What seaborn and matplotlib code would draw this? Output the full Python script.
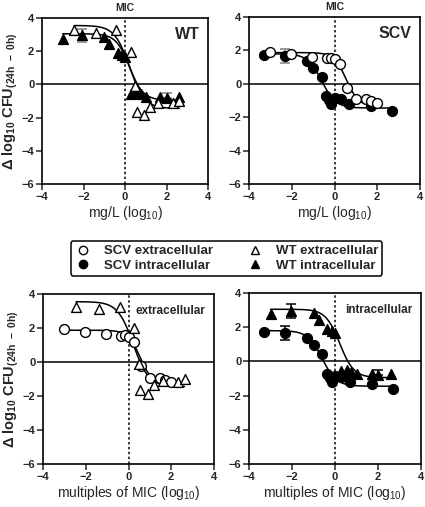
import matplotlib.pyplot as plt
import numpy as np
import pandas as pd
import seaborn as sns
from matplotlib.lines import Line2D

sns.set_style("ticks")
plt.rcParams['font.family'] = ['Liberation Sans', 'DejaVu Sans']
plt.rcParams['mathtext.default'] = 'regular'

# points (log10 concentration, delta log10 CFU); MIC = 1 mg/L so both x scales match
wt_ext_x = [-2.45, -1.4, -0.42, 0.28, 0.48, 0.56, 0.92, 1.2, 1.6, 2.3, 2.62]
wt_ext_y = [3.25, 3.1, 3.25, 1.98, -0.12, -1.64, -1.87, -1.36, -1.1, -1.15, -1.0]
wt_int_x = [-3.0, -2.05, -1.0, -0.75, -0.35, -0.15, 0.0, 0.3, 0.55, 0.75, 1.0, 1.7, 2.0, 2.6]
wt_int_y = [2.75, 2.95, 2.85, 2.45, 1.9, 1.75, 1.68, -0.55, -0.5, -0.6, -0.75, -0.75, -0.8, -0.75]
scv_ext_x = [-3.0, -2.02, -1.05, -0.37, -0.18, 0.02, 0.28, 0.58, 1.0, 1.47, 1.7, 1.98]
scv_ext_y = [1.93, 1.78, 1.63, 1.52, 1.56, 1.5, 1.2, -0.25, -0.93, -0.93, -1.05, -1.15]
scv_int_x = [-3.3, -2.32, -1.3, -1.0, -0.59, -0.38, -0.24, -0.15, 0.02, 0.3, 0.68, 1.7, 2.68]
scv_int_y = [1.7, 1.66, 1.37, 0.97, 0.43, -0.75, -0.95, -1.2, -0.85, -0.92, -1.2, -1.34, -1.6]

# error bars (x, y, lower, upper)
wt_int_err = [(-2.05, 2.95, 0.4, 0.4), (2.0, -0.8, 0.0, 0.28)]
scv_int_err = [(-2.32, 1.66, 0.42, 0.42)]

# Hill fits: top, bottom, logEC50, slope
wt_ext_fit = [3.55, -1.45, 0.22, 1.2]
wt_int_fit = [3.05, -0.95, 0.22, 1.33]
scv_ext_fit = [1.87, -1.35, 0.55, 1.5]
scv_int_fit = [1.8, -1.45, -0.6, 1.3]


def hill(p, x0, x1):
    xs = np.linspace(x0, x1, 200)
    ys = p[1] + (p[0] - p[1]) / (1 + 10 ** ((xs - p[2]) * p[3]))
    return pd.DataFrame({'x': xs, 'y': ys})


series = {
    'wt_ext': (wt_ext_x, wt_ext_y, wt_ext_fit, '^', 'white'),
    'wt_int': (wt_int_x, wt_int_y, wt_int_fit, '^', 'black'),
    'scv_ext': (scv_ext_x, scv_ext_y, scv_ext_fit, 'o', 'white'),
    'scv_int': (scv_int_x, scv_int_y, scv_int_fit, 'o', 'black'),
}
errs = {'wt_int': wt_int_err, 'scv_int': scv_int_err}

fig = plt.figure(figsize=(4.25, 5.07), dpi=100)
W, H = 425, 507


def add_ax(x0, y0, x1, y1):
    return fig.add_axes([x0 / W, 1 - y1 / H, (x1 - x0) / W, (y1 - y0) / H])


panels = [
    (add_ax(42, 18, 208, 184), ['wt_int', 'wt_ext'], 'WT', 11.5, 'mg/L (log$_{10}$)', True, '#808080'),
    (add_ax(249, 17, 420, 184), ['scv_int', 'scv_ext'], 'SCV', 11.5, 'mg/L (log$_{10}$)', True, '#808080'),
    (add_ax(43, 294, 214, 464), ['scv_ext', 'wt_ext'], 'extracellular', 8.5, 'multiples of MIC (log$_{10}$)', False, 'black'),
    (add_ax(249, 293, 421, 464), ['scv_int', 'wt_int'], 'intracellular', 8.5, 'multiples of MIC (log$_{10}$)', False, 'black'),
]

for i, (ax, keys, title, tsize, xlab, top, ecol) in enumerate(panels):
    ax.axhline(0, color='black', lw=1.1, zorder=1)
    ax.axvline(0, color='black', lw=1.1, ls=(0, (1.6, 1.6)), zorder=1)
    for k in keys:
        xs, ys, fit, mk, fc = series[k]
        sns.lineplot(data=hill(fit, min(xs), max(xs)), x='x', y='y', ax=ax,
                     color='black', lw=1.1, zorder=2)
        for ex, ey, lo, hi in errs.get(k, []):
            ax.errorbar([ex], [ey], yerr=[[lo], [hi]], fmt='none', ecolor=ecol,
                        elinewidth=1.1, capsize=3.5, capthick=1.1, zorder=3)
        sns.scatterplot(x=xs, y=ys, ax=ax, marker=mk, s=50, color=fc,
                        edgecolor='black', linewidth=1.0, zorder=4)
    ax.set_xlim(-4, 4)
    ax.set_ylim(-6, 4)
    ax.set_xticks([-4, -2, 0, 2, 4])
    ax.set_yticks([-6, -4, -2, 0, 2, 4])
    ax.tick_params(direction='out', length=4, width=1.1, labelsize=8, pad=1.5)
    for lb in ax.get_xticklabels() + ax.get_yticklabels():
        lb.set_fontweight('bold')
    for sp in ax.spines.values():
        sp.set_linewidth(1.2)
        sp.set_color('black')
    ax.set_xlabel(xlab, fontsize=10, labelpad=2)
    if i % 2 == 0:
        ax.set_ylabel('Δ log$_{10}$ CFU$_{(24h\\ -\\ 0h)}$', fontsize=10.5,
                      fontweight='bold', labelpad=1)
    else:
        ax.set_ylabel('')
    ax.text(0.95, 0.9, title, transform=ax.transAxes, ha='right', va='center',
            fontsize=tsize, fontweight='bold')
    if top:
        ax.text(0, 4.3, 'MIC', ha='center', va='bottom', fontsize=7.5,
                fontweight='bold')

handles = [
    Line2D([], [], ls='none', marker='o', mfc='white', mec='black', ms=6, mew=1),
    Line2D([], [], ls='none', marker='o', mfc='black', mec='black', ms=6, mew=1),
    Line2D([], [], ls='none', marker='^', mfc='white', mec='black', ms=6, mew=1),
    Line2D([], [], ls='none', marker='^', mfc='black', mec='black', ms=6, mew=1),
]
labels = ['SCV extracellular', 'SCV intracellular', 'WT extracellular', 'WT intracellular']
leg = fig.legend(handles, labels, ncol=2, loc='center',
                 bbox_to_anchor=((65 + 388) / 2 / W, 1 - 258.5 / H),
                 prop={'weight': 'bold', 'size': 9.5}, frameon=True, fancybox=True,
                 handletextpad=1.0, columnspacing=2.6, labelspacing=0.2,
                 borderpad=0.3, handlelength=1.2)
leg.get_frame().set_edgecolor('black')
leg.get_frame().set_linewidth(1.1)
leg.get_frame().set_alpha(1)

fig.savefig('out.png', dpi=100)
